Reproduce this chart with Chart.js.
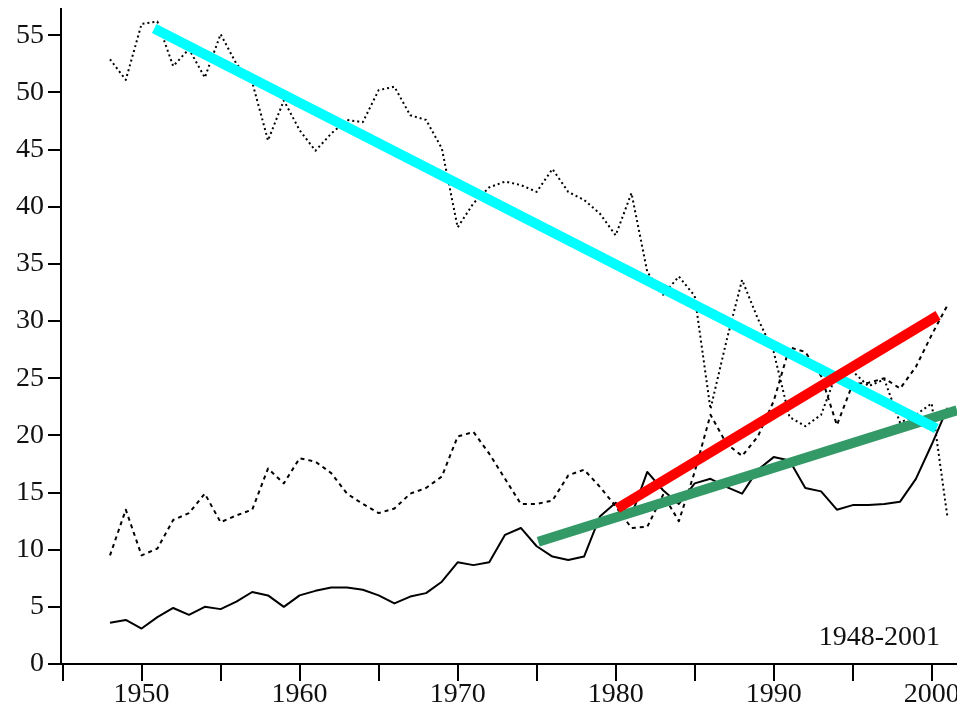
<!DOCTYPE html>
<html>
<head>
<meta charset="utf-8">
<title>1948-2001</title>
<script src="https://cdn.jsdelivr.net/npm/chart.js@4.4.1/dist/chart.umd.min.js"></script>
<style>
    html, body { margin: 0; padding: 0; background: #fff; }
    #wrap { width: 957px; height: 707px; }
</style>
</head>
<body>
<div id="wrap"><canvas id="trendChart"></canvas></div>
<script>
// Years on the x axis
const years = [
    1948, 1949, 1950, 1951, 1952, 1953, 1954, 1955, 1956, 1957,
    1958, 1959, 1960, 1961, 1962, 1963, 1964, 1965, 1966, 1967,
    1968, 1969, 1970, 1971, 1972, 1973, 1974, 1975, 1976, 1977,
    1978, 1979, 1980, 1981, 1982, 1983, 1984, 1985, 1986, 1987,
    1988, 1989, 1990, 1991, 1992, 1993, 1994, 1995, 1996, 1997,
    1998, 1999, 2000, 2001
];

// Dotted series (top)
const dottedSeries = [
    52.9, 51.1, 56.0, 56.2, 52.3, 53.8, 51.3, 55.1, 52.5, 50.9,
    45.8, 49.3, 46.7, 44.9, 46.4, 47.6, 47.4, 50.2, 50.5, 48.0,
    47.6, 45.1, 38.2, 40.3, 41.7, 42.2, 41.9, 41.3, 43.3, 41.3,
    40.6, 39.4, 37.5, 41.2, 34.3, 32.3, 33.9, 32.2, 22.3, 28.2,
    33.6, 30.2, 27.3, 21.6, 20.8, 21.8, 25.5, 25.6, 24.3, 24.9,
    21.1, 21.8, 22.8, 12.8
];

// Dashed series (middle)
const dashedSeries = [
    9.5, 13.5, 9.5, 10.1, 12.6, 13.2, 14.9, 12.4, 13.0, 13.5,
    17.1, 15.8, 18.0, 17.7, 16.7, 14.9, 14.0, 13.2, 13.6, 14.9,
    15.4, 16.4, 19.9, 20.3, 18.4, 16.2, 14.0, 14.0, 14.3, 16.5,
    17.0, 15.5, 13.8, 11.9, 12.0, 14.8, 12.5, 16.8, 21.8, 19.3,
    18.2, 19.9, 23.0, 27.7, 27.3, 25.2, 20.9, 24.5, 24.6, 25.0,
    24.1, 26.0, 28.8, 31.4
];

// Solid series (bottom)
const solidSeries = [
    3.6, 3.85, 3.1, 4.1, 4.9, 4.3, 5.0, 4.8, 5.45, 6.3,
    6.0, 5.0, 6.0, 6.4, 6.7, 6.7, 6.5, 6.0, 5.3, 5.9,
    6.2, 7.2, 8.9, 8.65, 8.9, 11.3, 11.9, 10.3, 9.4, 9.1,
    9.4, 12.9, 14.1, 13.0, 16.8, 15.2, 14.0, 15.8, 16.2, 15.5,
    14.9, 17.0, 18.1, 17.8, 15.4, 15.1, 13.5, 13.9, 13.9, 14.0,
    14.2, 16.2, 19.2, 22.4
];

// Trend lines: [year, value] at both ends
const cyanTrend = [[1950.8, 55.6], [2000.3, 20.6]];
const redTrend = [[1980.1, 13.6], [2000.4, 30.5]];
const greenTrend = [[1975.1, 10.7], [2001.6, 22.2]];

// Tick positions
const xTicks = [1945, 1950, 1955, 1960, 1965, 1970, 1975, 1980, 1985, 1990, 1995, 2000];
const yTicks = [0, 5, 10, 15, 20, 25, 30, 35, 40, 45, 50, 55];

const tickFont = { family: 'Liberation Serif', size: 28 };

function toPoints(values) {
    return years.map((yr, i) => ({ x: yr, y: values[i] }));
}

function trendPoints(pairs) {
    return pairs.map(p => ({ x: p[0], y: p[1] }));
}

// Period text in the lower right corner
const periodLabel = {
    id: 'periodLabel',
    afterDraw(chart) {
        const ctx = chart.ctx;
        const area = chart.chartArea;
        ctx.save();
        ctx.font = '28px "Liberation Serif"';
        ctx.fillStyle = '#111';
        ctx.textAlign = 'right';
        ctx.textBaseline = 'alphabetic';
        ctx.fillText('1948-2001', area.right - 17, area.bottom - 19);
        ctx.restore();
    }
};

const ctxTrend = document.getElementById('trendChart').getContext('2d');

const trendChart = new Chart(ctxTrend, {
    type: 'line',
    data: {
        datasets: [
            {
                label: 'red trend',
                data: trendPoints(redTrend),
                borderColor: '#FF0000',
                borderWidth: 10,
                borderCapStyle: 'butt',
                order: 1
            },
            {
                label: 'cyan trend',
                data: trendPoints(cyanTrend),
                borderColor: '#00FFFF',
                borderWidth: 10,
                borderCapStyle: 'butt',
                order: 2
            },
            {
                label: 'green trend',
                data: trendPoints(greenTrend),
                borderColor: '#339966',
                borderWidth: 10,
                borderCapStyle: 'butt',
                order: 3
            },
            {
                label: 'dotted',
                data: toPoints(dottedSeries),
                borderColor: '#000',
                borderWidth: 2,
                borderDash: [2, 3],
                order: 4
            },
            {
                label: 'dashed',
                data: toPoints(dashedSeries),
                borderColor: '#000',
                borderWidth: 2,
                borderDash: [4, 4],
                order: 5
            },
            {
                label: 'solid',
                data: toPoints(solidSeries),
                borderColor: '#000',
                borderWidth: 2,
                order: 6
            }
        ]
    },
    options: {
        animation: false,
        responsive: true,
        maintainAspectRatio: false,
        layout: { padding: { top: 9, left: 0, right: 0, bottom: 0 } },
        elements: {
            point: { radius: 0 },
            line: { tension: 0, fill: false, borderJoinStyle: 'round' }
        },
        plugins: {
            legend: { display: false },
            tooltip: { enabled: false }
        },
        scales: {
            x: {
                type: 'linear',
                min: 1944.9,
                max: 2001.6,
                grid: { drawOnChartArea: false, tickLength: 17, color: '#000', lineWidth: 2 },
                border: { display: true, color: '#000', width: 2 },
                ticks: {
                    autoSkip: false,
                    maxRotation: 0,
                    padding: -3,
                    color: '#111',
                    font: tickFont,
                    callback: v => (v % 10 === 0 ? String(v) : '')
                },
                afterBuildTicks: s => { s.ticks = xTicks.map(v => ({ value: v })); },
                afterFit: s => { s.height = 43; s.paddingLeft = 0; s.paddingRight = 0; }
            },
            y: {
                min: 0,
                max: 57.3,
                grid: { drawOnChartArea: false, tickLength: 13, color: '#000', lineWidth: 2 },
                border: { display: true, color: '#000', width: 2 },
                ticks: {
                    autoSkip: false,
                    padding: 4,
                    color: '#111',
                    font: tickFont,
                    callback: v => String(v)
                },
                afterBuildTicks: s => { s.ticks = yTicks.map(v => ({ value: v })); },
                afterFit: s => { s.width = 61; s.paddingTop = 0; s.paddingBottom = 0; }
            }
        }
    },
    plugins: [periodLabel]
});
</script>
</body>
</html>
